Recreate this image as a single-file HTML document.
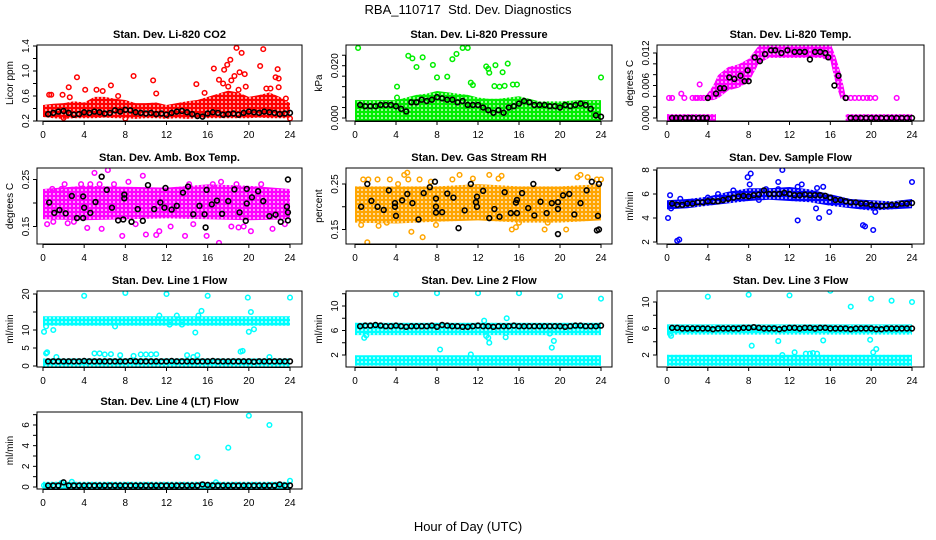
<!DOCTYPE html>
<html><head><meta charset="utf-8"><style>
html,body{margin:0;padding:0;background:#fff;}
svg{display:block;font-family:"Liberation Sans",Arial,sans-serif;}
</style></head><body>
<svg id="chart" width="936" height="540" viewBox="0 0 936 540" xmlns="http://www.w3.org/2000/svg">
<defs id="defs"></defs>
<text x="468" y="14" text-anchor="middle" font-size="13">RBA_110717 &#160;Std. Dev. Diagnostics</text>
<text x="468" y="531" text-anchor="middle" font-size="13">Hour of Day (UTC)</text>
</svg>
<script>
const halfHours=[0.5,1,1.5,2,2.5,3,3.5,4,4.5,5,5.5,6,6.5,7,7.5,8,8.5,9,9.5,10,10.5,11,11.5,12,12.5,13,13.5,14,14.5,15,15.5,16,16.5,17,17.5,18,18.5,19,19.5,20,20.5,21,21.5,22,22.5,23,23.5,24];
const xTicks=[0,4,8,12,16,20,24];

// CO2
const co2BandX=[0,1,2,3,4,5,6,7,8,9,10,11,12,13,14,15,16,17,18,19,20,21,22,23,24];
const co2BandLo=[0.3,0.28,0.27,0.28,0.28,0.28,0.29,0.28,0.28,0.27,0.28,0.28,0.27,0.28,0.27,0.28,0.28,0.28,0.28,0.28,0.28,0.29,0.28,0.28,0.28];
const co2BandHi=[0.42,0.44,0.45,0.48,0.46,0.55,0.55,0.52,0.5,0.45,0.45,0.46,0.42,0.45,0.48,0.5,0.55,0.6,0.65,0.62,0.55,0.58,0.62,0.55,0.45];
const co2Out=[[0.6,0.62],[0.8,0.62],[1.9,0.62],[2.5,0.74],[2.6,0.58],[3.3,0.9],[4.1,0.7],[5.2,0.7],[5.8,0.68],[6.6,0.77],[7.3,0.6],[8.8,0.92],[10.7,0.85],[11.0,0.64],[14.9,0.79],[15.7,0.65],[16.6,1.04],[17.1,0.86],[17.6,1.02],[17.9,1.1],[18.2,1.18],[18.6,0.92],[18.8,1.37],[19.3,1.29],[19.1,0.98],[19.6,0.95],[19.7,0.75],[21.1,1.08],[21.4,1.35],[21.7,0.72],[22.1,0.72],[22.6,0.9],[22.8,1.03],[22.9,0.88],[22.9,0.74],[23.6,0.56],[8.0,0.24],[2.0,0.25],[24,0.24],[17.5,0.8],[18.3,0.85],[19.0,0.7],[18.0,0.75]];
const co2Black=[0.31,0.33,0.35,0.36,0.33,0.30,0.31,0.34,0.33,0.35,0.34,0.32,0.33,0.37,0.35,0.38,0.37,0.34,0.33,0.32,0.33,0.31,0.32,0.30,0.33,0.35,0.36,0.34,0.31,0.28,0.27,0.32,0.34,0.33,0.30,0.31,0.32,0.30,0.33,0.35,0.34,0.33,0.35,0.34,0.33,0.31,0.32,0.33];

// Pressure
const presBandX=[0,2,4,5,6,7,8,9,10,11,12,13,14,15,16,16.5,17,18,20,22,24];
const presBandLo=[-0.0012,-0.0012,-0.0012,-0.0012,-0.0012,-0.0012,-0.0012,-0.0012,-0.0012,-0.0012,-0.0012,-0.0012,-0.0012,-0.0012,-0.0012,-0.0012,-0.0012,-0.0012,-0.0012,-0.0012,-0.0012];
const presBandHi=[0.006,0.006,0.006,0.007,0.008,0.0085,0.0095,0.009,0.0085,0.008,0.007,0.0065,0.0065,0.007,0.0075,0.007,0.0065,0.0055,0.0055,0.006,0.006];
const presOut=[[0.3,0.0268],[4.1,0.012],[4.1,0.0078],[5.2,0.0238],[5.6,0.0228],[6.0,0.0195],[6.6,0.0232],[7.6,0.0203],[8.0,0.0155],[9.0,0.0158],[9.5,0.0225],[9.9,0.0245],[10.5,0.0268],[11.0,0.0268],[11.3,0.0135],[11.5,0.0126],[12.8,0.0197],[13.0,0.0188],[13.1,0.0173],[13.7,0.0202],[13.6,0.0122],[14.1,0.012],[14.4,0.0175],[14.6,0.0123],[14.9,0.0208],[15.4,0.0128],[15.8,0.0128],[24,0.0155]];
const presBlack=[0.005,0.0045,0.0045,0.0045,0.005,0.005,0.005,0.0045,0.0035,0.0025,0.006,0.006,0.007,0.0065,0.007,0.008,0.0075,0.007,0.007,0.006,0.0065,0.005,0.005,0.005,0.004,0.003,0.002,0.003,0.002,0.004,0.0045,0.0055,0.0065,0.006,0.005,0.005,0.005,0.0045,0.0045,0.004,0.005,0.0045,0.005,0.0055,0.005,0.0035,0.001,0.0005];

// Temp
const tempBandX=[3.8,4.5,5,6,7,8,9,10,11,12,13,14,15,16,16.5,17,17.5];
const tempBandLo=[0.0037,0.0037,0.004,0.0055,0.006,0.007,0.0105,0.0115,0.0115,0.0115,0.0115,0.0115,0.0115,0.011,0.007,0.004,0.0037];
const tempBandHi=[0.0037,0.0055,0.0075,0.009,0.0095,0.0105,0.013,0.0135,0.0135,0.0135,0.0135,0.0135,0.0135,0.0135,0.011,0.008,0.0037];
const tempZeroAX=[0,4.8], tempZeroALo=[-0.0003,-0.0003], tempZeroAHi=[0.0003,0.0003];
const tempZeroBX=[17.5,24], tempZeroBLo=[-0.0003,-0.0003], tempZeroBHi=[0.0003,0.0003];
const tempOut=[[0.2,0.0037],[0.5,0.0037],[1.4,0.0045],[1.7,0.0037],[2.5,0.0037],[2.8,0.0037],[3.0,0.0037],[3.3,0.0037],[3.6,0.0037],[3.2,0.0062],[17.6,0.0037],[18.0,0.0037],[18.4,0.0037],[18.8,0.0037],[19.2,0.0037],[19.6,0.0037],[19.9,0.0037],[20.4,0.0037],[22.5,0.0037]];
const tempBlackX=[0.5,0.9,1.3,1.8,2.2,2.6,3.1,3.5,3.9,4.0,4.8,5.2,5.6,6.1,6.6,7.2,7.6,7.9,8.0,8.6,9.1,9.6,10.2,10.6,11.2,11.8,12.5,13.0,13.5,14.0,14.5,15.0,15.5,15.8,16.4,16.8,17.5,18.0,18.5,19.0,19.5,20.0,20.5,21.0,21.5,22.0,22.5,23.0,23.5,24.0];
const tempBlackY=[0,0,0,0,0,0,0,0,0,0.0037,0.0045,0.0055,0.0055,0.0075,0.0072,0.0078,0.0068,0.0088,0.0068,0.0112,0.0105,0.0118,0.0125,0.0125,0.012,0.0125,0.0122,0.0122,0.0122,0.0108,0.0122,0.0122,0.012,0.0112,0.006,0.0078,0.0037,0,0,0,0,0,0,0,0,0,0,0,0,0];

// Amb box temp
const ambBandX=[0,4,8,12,16,20,24];
const ambBandLo=[0.17,0.168,0.17,0.172,0.17,0.168,0.17];
const ambBandHi=[0.225,0.232,0.23,0.228,0.235,0.232,0.225];
const ambOut=[[0.4,0.155],[0.9,0.23],[1.8,0.23],[2.4,0.157],[3.7,0.24],[4.3,0.147],[4.6,0.24],[5.0,0.264],[5.5,0.24],[6.3,0.27],[5.7,0.145],[7.7,0.13],[8.3,0.245],[9.7,0.258],[10.0,0.133],[11.0,0.132],[11.3,0.14],[12.4,0.15],[13.8,0.13],[14.6,0.155],[15.9,0.13],[17.1,0.115],[17.3,0.245],[18.3,0.15],[19.0,0.148],[19.5,0.15],[20.2,0.14],[21.2,0.24],[22.3,0.145],[23.5,0.155],[2.1,0.24],[6.9,0.24],[14.2,0.24],[16.5,0.24],[1.0,0.16],[3.0,0.16],[9.0,0.155],[18.8,0.24]];
const ambBlack=[[0.6,0.201],[1.1,0.179],[1.6,0.185],[2.2,0.178],[2.8,0.215],[3.3,0.168],[3.9,0.168],[3.9,0.214],[4.0,0.19],[4.6,0.179],[5.1,0.202],[5.7,0.256],[6.2,0.228],[6.7,0.19],[7.3,0.163],[7.8,0.165],[7.9,0.21],[7.9,0.218],[8.6,0.16],[9.2,0.187],[9.7,0.162],[10.2,0.238],[10.8,0.187],[11.4,0.201],[11.8,0.19],[11.9,0.232],[12.5,0.186],[13.0,0.194],[13.6,0.222],[14.1,0.235],[14.6,0.176],[15.2,0.194],[15.7,0.176],[15.8,0.148],[15.9,0.228],[16.4,0.197],[16.9,0.205],[17.4,0.177],[18.0,0.204],[18.6,0.229],[19.1,0.18],[19.7,0.162],[19.8,0.23],[19.8,0.199],[20.3,0.212],[20.9,0.225],[21.4,0.204],[22.0,0.172],[22.6,0.175],[23.1,0.16],[23.7,0.192],[23.8,0.18],[23.8,0.163],[23.8,0.25]];

// RH
const rhBandX=[0,4,8,12,16,20,24];
const rhBandLo=[0.17,0.168,0.172,0.175,0.17,0.17,0.175];
const rhBandHi=[0.24,0.24,0.24,0.245,0.24,0.24,0.245];
const rhOut=[[0.6,0.16],[1.2,0.122],[1.3,0.26],[0.8,0.26],[2.3,0.158],[3.1,0.165],[3.4,0.26],[4.2,0.25],[5.1,0.275],[5.2,0.26],[5.5,0.145],[6.3,0.26],[6.6,0.133],[7.4,0.255],[7.9,0.16],[9.5,0.26],[10.2,0.27],[11.5,0.262],[13.1,0.27],[14.0,0.262],[14.3,0.268],[15.3,0.15],[15.7,0.155],[16.0,0.165],[18.5,0.15],[18.8,0.165],[20.6,0.15],[21.7,0.265],[22.0,0.27],[22.7,0.265],[23.6,0.26],[24.0,0.26],[2.2,0.26],[4.8,0.27]];
const rhBlack=[[0.6,0.2],[1.2,0.25],[1.6,0.213],[2.2,0.2],[2.8,0.193],[3.3,0.236],[3.9,0.208],[3.9,0.2],[4.0,0.18],[4.6,0.214],[5.1,0.228],[5.6,0.208],[6.2,0.172],[6.7,0.23],[7.3,0.243],[7.8,0.255],[7.9,0.218],[7.9,0.2],[7.9,0.187],[8.5,0.188],[9.0,0.229],[9.6,0.22],[10.1,0.153],[10.7,0.192],[11.3,0.25],[11.8,0.21],[11.9,0.222],[11.9,0.2],[12.5,0.235],[13.1,0.175],[13.6,0.195],[14.1,0.178],[14.6,0.232],[15.2,0.186],[15.7,0.209],[15.8,0.215],[15.8,0.186],[16.3,0.23],[16.9,0.197],[17.4,0.25],[17.5,0.181],[18.1,0.211],[18.7,0.186],[19.2,0.208],[19.8,0.14],[19.8,0.195],[19.8,0.21],[19.8,0.285],[20.3,0.225],[20.9,0.228],[21.4,0.183],[22.0,0.208],[22.6,0.236],[23.1,0.255],[23.6,0.148],[23.7,0.18],[23.8,0.25],[23.8,0.15]];

// Sample flow
const sampBandX=[0,2,4,6,8,10,12,14,16,18,20,22,24];
const sampBandLo=[4.9,5.0,5.2,5.4,5.6,5.7,5.6,5.5,5.2,5.0,4.8,4.9,5.0];
const sampBandHi=[5.3,5.4,5.6,6.0,6.3,6.3,6.4,6.2,5.8,5.4,5.3,5.2,5.4];
const sampOut=[[0.1,4.0],[0.3,5.9],[0.4,4.8],[1.0,2.1],[1.2,2.2],[1.3,5.6],[4.0,5.7],[5.0,6.0],[6.5,6.3],[7.9,7.4],[8.2,7.7],[8.1,6.8],[9.0,5.5],[9.7,6.4],[10.9,7.0],[11.3,8.0],[10.9,6.4],[12.8,3.8],[12.8,6.6],[13.2,6.8],[14.6,4.8],[14.7,6.5],[14.9,4.0],[15.3,6.6],[15.9,4.5],[19.2,3.4],[19.4,3.3],[20.2,3.0],[20.4,4.5],[24,7.0]];
const sampBlack=[5.2,5.1,5.1,5.2,5.2,5.3,5.3,5.4,5.4,5.4,5.5,5.6,5.7,5.8,5.85,5.8,5.9,5.95,6.3,6.0,6.0,6.0,6.1,6.0,5.9,5.9,5.95,5.9,5.9,5.9,5.85,5.7,5.5,5.5,5.4,5.3,5.3,5.2,5.2,5.1,5.05,5.0,5.05,5.1,5.1,5.2,5.2,5.25];

// Line 1
const l1HiX=[0,24], l1HiLo=[11.8,11.8], l1HiHi=[13.2,13.2];
const l1LoX=[0,24], l1LoLo=[0,0], l1LoHi=[1.5,1.5];
const l1Out=[[0.1,9.5],[0.4,3.8],[0.3,3.5],[0.3,11],[1.0,10],[1.3,2.5],[4.0,19.5],[5.0,3.5],[5.5,3.5],[6.0,3.2],[6.6,3.3],[7.0,11],[7.5,3.0],[8.0,20.3],[8.8,2.8],[9.5,3.2],[10.0,3.2],[10.5,3.2],[11.0,3.3],[11.3,14],[12.0,20],[12.3,11.5],[13.0,14.0],[13.5,11.5],[14.0,3.0],[14.6,2.5],[14.8,9.3],[15.0,3.0],[15.1,14],[15.4,15.3],[16.0,19.5],[19.2,4.0],[19.4,4.2],[19.9,19.0],[20.0,9.5],[20.2,15],[20.5,10.2],[22,2.5],[24,19]];
const l1Black=[1.3,1.3,1.3,1.3,1.3,1.3,1.3,1.4,1.3,1.3,1.3,1.3,1.3,1.3,1.3,1.3,1.4,1.3,1.3,1.3,1.3,1.3,1.3,1.3,1.4,1.3,1.3,1.3,1.3,1.3,1.3,1.3,1.4,1.3,1.3,1.3,1.3,1.3,1.3,1.3,1.2,1.3,1.3,1.3,1.3,1.3,1.3,1.3];

// Line 2
const l2HiX=[0,24], l2HiLo=[5.6,5.6], l2HiHi=[6.9,6.9];
const l2LoX=[0,24], l2LoLo=[0.6,0.6], l2LoHi=[1.6,1.6];
const l2Out=[[4,11.9],[8,12.1],[12,12.1],[16,12.1],[20,11.6],[24,11.2],[0.9,4.8],[1.1,5.2],[8.3,2.9],[11.3,2.1],[12.6,7.6],[12.8,5.1],[13.1,4.0],[13.0,4.8],[14.7,4.9],[14.8,8.0],[19.2,3.2],[19.4,4.3],[19.0,5.5]];
const l2Black=[6.7,6.8,6.8,6.9,6.8,6.7,6.7,6.8,6.7,6.6,6.7,6.7,6.7,6.7,6.8,6.6,6.9,6.8,6.7,6.7,6.6,6.6,6.7,6.8,6.7,6.7,6.6,6.7,6.7,6.7,6.8,6.7,6.7,6.7,6.7,6.7,6.7,6.7,6.7,6.7,6.6,6.7,6.8,6.8,6.7,6.7,6.7,6.8];

// Line 3
const l3HiX=[0,24], l3HiLo=[5.4,5.4], l3HiHi=[6.3,6.3];
const l3LoX=[0,24], l3LoLo=[0.7,0.7], l3LoHi=[1.7,1.7];
const l3Out=[[0.3,5.2],[0.4,4.9],[4,10.8],[8,11.1],[8.3,3.4],[10.9,4.1],[11.3,2.0],[12,11.0],[12.5,2.4],[13.6,2.2],[14,2.2],[14.3,2.3],[14.7,2.2],[15.3,4.2],[16,11.7],[18,9.3],[19.9,4.3],[20,10.5],[20.2,2.4],[20.5,2.9],[22,10.2],[24,10]];
const l3Black=[6.1,6.1,6.0,6.0,6.0,6.0,6.0,6.0,5.9,6.0,6.0,6.0,6.0,6.0,6.1,6.1,6.2,6.1,6.0,6.0,6.0,5.9,6.0,6.1,6.1,6.0,6.1,6.1,6.0,6.1,6.1,6.0,6.0,6.0,6.0,5.9,6.0,6.0,6.0,6.0,5.9,5.9,6.0,6.0,6.0,6.0,6.0,6.0];

// Line 4
const l4BandX=[0,24], l4BandLo=[0,0], l4BandHi=[0.3,0.3];
const l4Out=[[15,2.9],[18,3.8],[20,6.9],[22,6.0],[24,0.6],[2.8,0.5],[1.8,0.4],[16.8,0.45],[0.1,0.15]];
const l4Black=[0.15,0.15,0.15,0.45,0.15,0.15,0.15,0.15,0.15,0.15,0.15,0.15,0.15,0.15,0.15,0.15,0.15,0.15,0.15,0.15,0.15,0.15,0.15,0.15,0.15,0.15,0.15,0.15,0.15,0.15,0.25,0.2,0.15,0.15,0.15,0.15,0.15,0.15,0.15,0.15,0.15,0.15,0.15,0.15,0.15,0.25,0.15,0.15];

const NS="http://www.w3.org/2000/svg";
const svg=document.getElementById('chart');
const defs=document.getElementById('defs');
function el(tag,attrs,parent){const e=document.createElementNS(NS,tag);for(const k in attrs)e.setAttribute(k,attrs[k]);(parent||svg).appendChild(e);return e;}

const patCache={};
function pattern(color){
  if(patCache[color])return patCache[color];
  const id='pat'+Object.keys(patCache).length;
  const p=el('pattern',{id:id,width:4,height:4,patternUnits:'userSpaceOnUse'},defs);
  el('rect',{x:0,y:0,width:4,height:4,fill:color},p);
  el('circle',{cx:2,cy:2,r:0.9,fill:'#fff'},p);
  patCache[color]='url(#'+id+')';return patCache[color];
}

const cols=[[37,302,43,290],[346,612,355,601],[657,924,667,912]];
const rows=[[45,121],[168,244],[291,367],[412,489]];

function panel(o){
  const c=cols[o.col],r=rows[o.row];
  const [bl,br,x0,x24]=c,[bt,bb]=r;
  const X=v=>x0+(x24-x0)*v/24;
  const [v0,p0,v1,p1]=o.yref;
  const Y=v=>p0+(v-v0)*(p1-p0)/(v1-v0);
  const g=el('g',{});
  
  
  const cid='clip'+o.name;
  const cp=el('clipPath',{id:cid},defs);
  el('rect',{x:bl,y:bt,width:br-bl,height:bb-bt},cp);
  const t=el('text',{x:(bl+br)/2,y:bt-7,'text-anchor':'middle','font-size':11,'font-weight':'bold'},g);
  t.textContent=o.title;
  
  
  const plot=el('g',{'clip-path':'url(#'+cid+')'},g);
  (o.bands||[]).forEach(b=>{
    let pts=[];
    b.x.forEach((xv,i)=>pts.push(X(xv)+','+(Y(b.hi[i])-2.2)));
    for(let i=b.x.length-1;i>=0;i--)pts.push(X(b.x[i])+','+(Y(b.lo[i])+2.2));
    const pg=el('polygon',{points:pts.join(' '),fill:pattern(o.color)},plot);
    
    
  });
  (o.out||[]).forEach(p=>{
    const ci=el('circle',{cx:X(p[0]),cy:Y(p[1]),r:2.3,fill:'none',stroke:o.color,'stroke-width':1.5},plot);
    
    
  });
  (o.black||[]).forEach(p=>{
    const ci=el('circle',{cx:X(p[0]),cy:Y(p[1]),r:2.4,fill:'none',stroke:'#000','stroke-width':1.6},plot);
    
    
  });
  const bx=el('rect',{x:bl,y:bt,width:br-bl,height:bb-bt,fill:'none',stroke:'#000','stroke-width':1},g);
  
  
  el('line',{x1:X(0),x2:X(24),y1:bb+0.5,y2:bb+0.5,stroke:'#000'},g);
  xTicks.forEach(v=>{
    el('line',{x1:X(v),x2:X(v),y1:bb,y2:bb+4,stroke:'#000'},g);
    const tl=el('text',{x:X(v),y:bb+17,'text-anchor':'middle','font-size':10},g);
    tl.textContent=v;
    
    
  });
  const yt=o.yticks;
  el('line',{x1:bl-0.5,x2:bl-0.5,y1:Y(yt[0]),y2:Y(yt[yt.length-1]),stroke:'#000'},g);
  yt.forEach(v=>{el('line',{x1:bl-4,x2:bl,y1:Y(v),y2:Y(v),stroke:'#000'},g);});
  o.ylabels.forEach((v,i)=>{
    const yy=Y(v);
    const tl=el('text',{x:bl-8,y:yy,'text-anchor':'middle','font-size':10,transform:'rotate(-90 '+(bl-8)+' '+yy+')'},g);
    tl.textContent=o.yfmt[i];
    
    
  });
  const ym=(bt+bb)/2;
  const at=el('text',{x:bl-24,y:ym,'text-anchor':'middle','font-size':10,transform:'rotate(-90 '+(bl-24)+' '+ym+')'},g);
  at.textContent=o.ylab;
  
  
}
const band=(x,lo,hi)=>({x,lo,hi});
const zipH=a=>a.map((v,i)=>[halfHours[i],v]);

panel({name:'co2-panel',title:'Stan. Dev. Li-820 CO2',col:0,row:0,yref:[0.2,121,1.4,46],color:'#ff0000',
  bands:[band(co2BandX,co2BandLo,co2BandHi)],out:co2Out,black:zipH(co2Black),
  yticks:[0.2,0.4,0.6,0.8,1.0,1.2,1.4],ylabels:[0.2,0.6,1.0,1.4],yfmt:['0.2','0.6','1.0','1.4'],ylab:'Licor ppm'});
panel({name:'pressure-panel',title:'Stan. Dev. Li-820 Pressure',col:1,row:0,yref:[0,118,0.02,65.7],color:'#00ee00',
  bands:[band(presBandX,presBandLo,presBandHi)],out:presOut,black:zipH(presBlack),
  yticks:[0,0.004,0.008,0.012,0.016,0.020,0.024],ylabels:[0,0.02],yfmt:['0.000','0.020'],ylab:'kPa'});
panel({name:'temp-panel',title:'Stan. Dev. Li-820 Temp.',col:2,row:0,yref:[0,118,0.012,53],color:'#ff00ff',
  bands:[band(tempBandX,tempBandLo,tempBandHi),band(tempZeroAX,tempZeroALo,tempZeroAHi),band(tempZeroBX,tempZeroBLo,tempZeroBHi)],
  out:tempOut,black:tempBlackX.map((x,i)=>[x,tempBlackY[i]]),
  yticks:[0,0.002,0.004,0.006,0.008,0.010,0.012],ylabels:[0,0.006,0.012],yfmt:['0.000','0.006','0.012'],ylab:'degrees C'});
panel({name:'amb-box-panel',title:'Stan. Dev. Amb. Box Temp.',col:0,row:1,yref:[0.15,226.5,0.25,179.5],color:'#ff00ff',
  bands:[band(ambBandX,ambBandLo,ambBandHi)],out:ambOut,black:ambBlack,
  yticks:[0.15,0.2,0.25],ylabels:[0.15,0.25],yfmt:['0.15','0.25'],ylab:'degrees C'});
panel({name:'rh-panel',title:'Stan. Dev. Gas Stream RH',col:1,row:1,yref:[0.15,229.5,0.25,184],color:'#ffa500',
  bands:[band(rhBandX,rhBandLo,rhBandHi)],out:rhOut,black:rhBlack,
  yticks:[0.15,0.2,0.25],ylabels:[0.15,0.25],yfmt:['0.15','0.25'],ylab:'percent'});
panel({name:'sample-flow-panel',title:'Stan. Dev. Sample Flow',col:2,row:1,yref:[2,242,8,170],color:'#0000ff',
  bands:[band(sampBandX,sampBandLo,sampBandHi)],out:sampOut,black:zipH(sampBlack),
  yticks:[2,4,6,8],ylabels:[2,4,6,8],yfmt:['2','4','6','8'],ylab:'ml/min'});
panel({name:'line1-panel',title:'Stan. Dev. Line 1 Flow',col:0,row:2,yref:[0,366,20,294],color:'#00ffff',
  bands:[band(l1HiX,l1HiLo,l1HiHi),band(l1LoX,l1LoLo,l1LoHi)],out:l1Out,black:zipH(l1Black),
  yticks:[0,5,10,15,20],ylabels:[0,5,10,20],yfmt:['0','5','10','20'],ylab:'ml/min'});
panel({name:'line2-panel',title:'Stan. Dev. Line 2 Flow',col:1,row:2,yref:[2,355,10,306],color:'#00ffff',
  bands:[band(l2HiX,l2HiLo,l2HiHi),band(l2LoX,l2LoLo,l2LoHi)],out:l2Out,black:zipH(l2Black),
  yticks:[2,4,6,8,10,12],ylabels:[2,6,10],yfmt:['2','6','10'],ylab:'ml/min'});
panel({name:'line3-panel',title:'Stan. Dev. Line 3 Flow',col:2,row:2,yref:[2,355,10,302],color:'#00ffff',
  bands:[band(l3HiX,l3HiLo,l3HiHi),band(l3LoX,l3LoLo,l3LoHi)],out:l3Out,black:zipH(l3Black),
  yticks:[2,4,6,8,10],ylabels:[2,6,10],yfmt:['2','6','10'],ylab:'ml/min'});
panel({name:'line4-panel',title:'Stan. Dev. Line 4 (LT) Flow',col:0,row:3,yref:[0,487,6,425],color:'#00ffff',
  bands:[band(l4BandX,l4BandLo,l4BandHi)],out:l4Out,black:zipH(l4Black),
  yticks:[0,1,2,3,4,5,6,7],ylabels:[0,2,4,6],yfmt:['0','2','4','6'],ylab:'ml/min'});
</script>
</body></html>
